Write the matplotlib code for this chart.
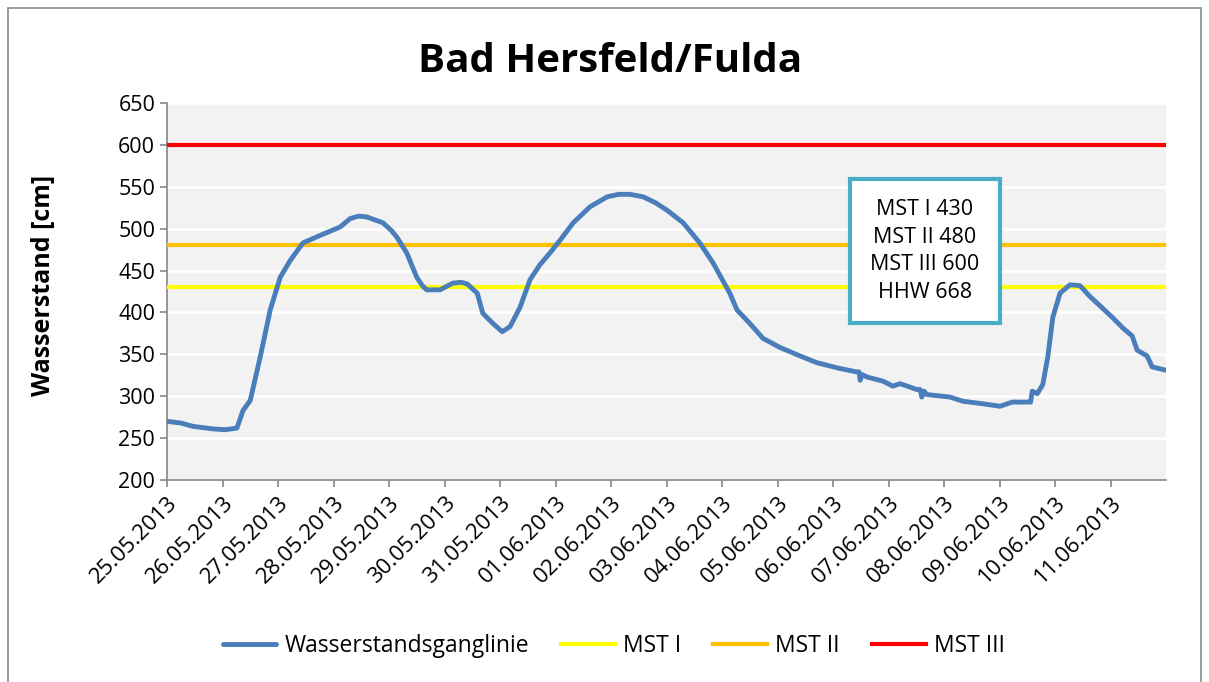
import datetime as dt
import matplotlib.pyplot as plt
import matplotlib.dates as mdates
from matplotlib.patches import Rectangle

plt.rcParams['font.family'] = ['Open Sans', 'DejaVu Sans']

# Water level readings: days since 25.05.2013 00:00 and level in cm
days = [0.00, 0.25, 0.47, 0.83, 1.05, 1.26, 1.37, 1.50, 1.68, 1.86, 2.04, 2.22,
        2.45, 2.76, 3.12, 3.30, 3.45, 3.60, 3.89, 4.04, 4.14, 4.32, 4.50, 4.60,
        4.68, 4.92, 5.15, 5.30, 5.41, 5.59, 5.69, 5.87, 6.04, 6.18, 6.36, 6.54,
        6.72, 6.90, 7.08, 7.32, 7.62, 7.93, 8.14, 8.34, 8.58, 8.80, 9.01, 9.30,
        9.60, 9.84, 10.14, 10.27, 10.50, 10.74, 11.05, 11.41, 11.71, 12.13,
        12.43, 12.47, 12.49, 12.52, 12.61, 12.90, 13.08, 13.21, 13.51, 13.57,
        13.60, 13.64, 13.69, 14.11, 14.34, 14.70, 15.01, 15.23, 15.51, 15.56,
        15.59, 15.68, 15.78, 15.87, 15.96, 16.09, 16.27, 16.45, 16.63, 16.81,
        17.05, 17.23, 17.39, 17.48, 17.66, 17.75, 18.00]
level = [270, 268, 264, 261, 260, 262, 283, 295, 347, 403, 442, 462,
         483, 492, 502, 512, 515, 514, 507, 498, 490, 471, 442, 432,
         427, 427, 435, 436, 434, 423, 399, 387, 377, 383, 406, 439,
         457, 471, 486, 507, 526, 538, 541, 541, 538, 531, 522, 507,
         483, 459, 423, 403, 387, 369, 358, 348, 340, 333,
         329, 329, 319, 326, 323, 318, 312, 315, 308, 308,
         299, 306, 302, 299, 294, 291, 288, 293, 293, 293,
         306, 303, 314, 347, 394, 423, 433, 432, 419, 408,
         393, 381, 372, 355, 348, 335, 331]

start = dt.datetime(2013, 5, 25)
times = [start + dt.timedelta(days=d) for d in days]

mst_names = ['MST I', 'MST II', 'MST III']
mst_values = [430, 480, 600]
mst_colors = ['#FFFF00', '#FFC000', '#FF0000']
hhw = 668

tick_dates = [start + dt.timedelta(days=i) for i in range(18)]

fig = plt.figure(figsize=(12.09, 6.82), dpi=100)
fig.patches.append(Rectangle((8 / 1209, -0.01), 1193 / 1209, 1 - 8 / 682 + 0.01,
                             transform=fig.transFigure, fill=False,
                             edgecolor='#8C8C8C', linewidth=1.2))

ax = fig.add_axes([167 / 1209, 1 - 480 / 682, 999 / 1209, 377 / 682])
ax.set_facecolor('#F2F2F2')

ax.plot(times, level, color='#4A7EBB', linewidth=3.5, solid_capstyle='round',
        solid_joinstyle='round', label='Wasserstandsganglinie', zorder=4)
for name, val, col in zip(mst_names, mst_values, mst_colors):
    ax.plot([start, start + dt.timedelta(days=18)], [val, val], color=col,
            linewidth=3, label=name, zorder=3)

ax.set_xlim(start, start + dt.timedelta(days=18))
ax.set_ylim(200, 650)
ax.set_yticks(range(200, 651, 50))
ax.set_xticks(tick_dates)
ax.xaxis.set_major_formatter(mdates.DateFormatter('%d.%m.%Y'))
plt.setp(ax.get_xticklabels(), rotation=45, ha='right', rotation_mode='anchor')
ax.tick_params(axis='both', labelsize=15.5, colors='#868686', labelcolor='black',
               length=5, width=1.2)
ax.tick_params(axis='x', labelsize=16, pad=4)

ax.grid(axis='y', color='white', linewidth=2)
ax.set_axisbelow(True)
for s in ['top', 'right']:
    ax.spines[s].set_visible(False)
for s in ['left', 'bottom']:
    ax.spines[s].set_color('#868686')
    ax.spines[s].set_linewidth(1.2)

ax.set_ylabel('Wasserstand [cm]', fontsize=18, fontweight='bold')
ax.yaxis.set_label_coords(-0.111, 0.517)
fig.text(0.505, 0.910, 'Bad Hersfeld/Fulda', ha='center', va='center',
         fontsize=29, fontweight='bold')

box_text = '\n'.join([f'{n} {v}' for n, v in zip(mst_names, mst_values)] + [f'HHW {hhw}'])
fig.text(925 / 1209, 1 - 251 / 682, box_text, ha='center', va='center',
         fontsize=15.5, linespacing=1.4,
         bbox=dict(boxstyle='square,pad=0.95', facecolor='white',
                   edgecolor='#4BACC6', linewidth=3))

fig.legend(loc='center', bbox_to_anchor=(0.5075, 1 - 646 / 682), ncol=4,
           frameon=False, fontsize=16.5, handlelength=2.35, columnspacing=1.4,
           handletextpad=0.35)

fig.savefig('out.png', dpi=100)
